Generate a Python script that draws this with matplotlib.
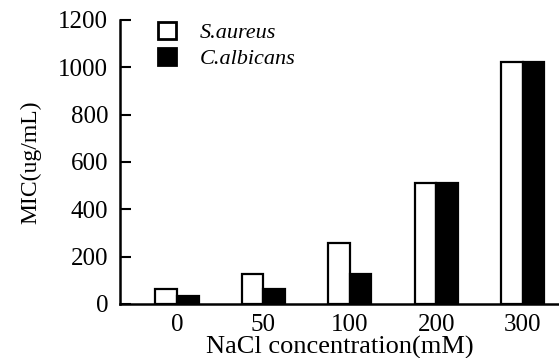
import matplotlib
matplotlib.use("Agg")
import matplotlib.pyplot as plt
import numpy as np
from matplotlib.patches import Patch

categories = ["0", "50", "100", "200", "300"]
s_aureus = [64, 128, 256, 512, 1024]
c_albicans = [32, 64, 128, 512, 1024]
series_labels = ["S.aureus", "C.albicans"]

plt.rcParams['font.family'] = ['Liberation Serif', 'DejaVu Serif']

fig = plt.figure(figsize=(5.59, 3.58), dpi=100)
ax = fig.add_axes([120/559, 54/358, 1 - 120/559, (304-20)/358])

x = np.arange(len(categories))
w = 0.25
ax.bar(x - w/2, s_aureus, width=w, facecolor='white', edgecolor='black', linewidth=1.6, zorder=3)
ax.bar(x + w/2, c_albicans, width=w, facecolor='black', edgecolor='black', linewidth=1.6, zorder=3)

ax.set_xlim(-0.66, 4.42)
ax.set_ylim(0, 1200)
ax.set_yticks(range(0, 1201, 200))
ax.set_xticks(x)
ax.set_xticklabels(categories)

for s in ['top', 'right']:
    ax.spines[s].set_visible(False)
for s in ['left', 'bottom']:
    ax.spines[s].set_linewidth(1.8)

ax.tick_params(axis='y', direction='in', length=8, width=1.5, pad=8.5, labelsize=18)
ax.tick_params(axis='x', length=0, pad=7, labelsize=18)

ax.set_xlabel("NaCl concentration(mM)", fontsize=19, labelpad=0)
ax.set_ylabel("MIC(ug/mL)", fontsize=17, labelpad=12)

handles = [Patch(facecolor='white', edgecolor='black', linewidth=2),
           Patch(facecolor='black', edgecolor='black', linewidth=2)]
leg = fig.legend(handles, series_labels, loc='upper left',
                 bbox_to_anchor=(138/559, 1 - 2/358), frameon=False,
                 handlelength=0.8, handleheight=0.8, handletextpad=1.1,
                 labelspacing=0.2, prop={'style': 'italic', 'size': 16})

fig.savefig("out.png", dpi=100)
